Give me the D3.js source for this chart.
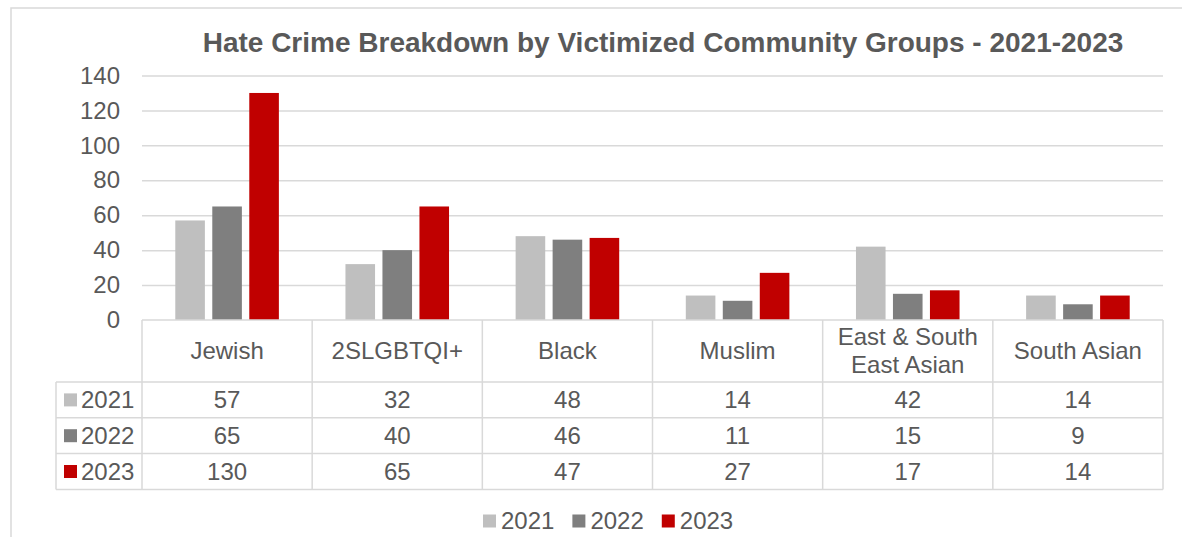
<!DOCTYPE html>
<html>
<head>
<meta charset="utf-8">
<script src="https://cdn.jsdelivr.net/npm/d3@7"></script>
<style>
  html, body { margin: 0; padding: 0; background: #fff; }
  svg { display: block; }
  text { font-family: "Liberation Sans", Arial, sans-serif; fill: #595959; }
</style>
</head>
<body>
<svg id="chart" width="1182" height="537"></svg>
<script>
// Reported hate crimes per victimized community group
const categories = ["Jewish", "2SLGBTQI+", "Black", "Muslim", "East & South East Asian", "South Asian"];
const years = ["2021", "2022", "2023"];
const values2021 = [57, 32, 48, 14, 42, 14];
const values2022 = [65, 40, 46, 11, 15, 9];
const values2023 = [130, 65, 47, 27, 17, 14];
const yTicks = [0, 20, 40, 60, 80, 100, 120, 140];
const titleText = "Hate Crime Breakdown by Victimized Community Groups - 2021-2023";

const seriesValues = [values2021, values2022, values2023];
const colors = d3.scaleOrdinal().domain(years).range(["#bfbfbf", "#7f7f7f", "#c00000"]);

const svg = d3.select("#chart");
const gridColor = "#d9d9d9";
const fontSize = 24;

// Chart frame
svg.append("rect")
  .attr("x", 11).attr("y", 8)
  .attr("width", 1300).attr("height", 600)
  .attr("fill", "#fff")
  .attr("stroke", gridColor).attr("stroke-width", 1.5);

// Plot geometry
const plot = { left: 142, right: 1163, top: 75.5, bottom: 320 };
const table = { left: 56, headerBottom: 382, rowH: 35.8 };

const x0 = d3.scaleBand().domain(categories).range([plot.left, plot.right]).padding(0);
const x1 = d3.scaleBand().domain(years).range([0, x0.bandwidth()])
  .paddingInner(0.2).paddingOuter(0.9);
const y = d3.scaleLinear().domain([0, 140]).range([plot.bottom, plot.top]);

// Title
svg.append("text")
  .attr("x", 663).attr("y", 52)
  .attr("text-anchor", "middle")
  .style("font-size", "28px").style("font-weight", "bold")
  .text(titleText);

// Gridlines and y labels
const yAxis = d3.axisLeft(y).tickValues(yTicks).tickSize(-(plot.right - plot.left)).tickPadding(22);
const gy = svg.append("g").attr("transform", `translate(${plot.left},0)`).call(yAxis);
gy.select(".domain").remove();
gy.selectAll(".tick line")
  .attr("stroke", gridColor).attr("stroke-width", 1.5)
  .filter(d => d === 0).remove();
gy.selectAll(".tick text")
  .attr("fill", "#595959")
  .style("font-family", "'Liberation Sans', Arial, sans-serif")
  .style("font-size", fontSize + "px");

// Bars
const groups = svg.append("g").selectAll("g")
  .data(categories)
  .join("g")
  .attr("transform", d => `translate(${x0(d)},0)`);

groups.selectAll("rect")
  .data((d, i) => years.map((yr, j) => ({ yr, v: seriesValues[j][i] })))
  .join("rect")
  .attr("x", d => x1(d.yr))
  .attr("width", x1.bandwidth())
  .attr("y", d => y(d.v))
  .attr("height", d => y(0) - y(d.v))
  .attr("fill", d => colors(d.yr));

// Data table lines
const rowsTop = table.headerBottom;
const rowsBottom = rowsTop + years.length * table.rowH;
const lines = svg.append("g").attr("stroke", gridColor).attr("stroke-width", 1.5);

// horizontal: axis line + row separators
lines.append("line")
  .attr("x1", plot.left).attr("x2", plot.right)
  .attr("y1", plot.bottom).attr("y2", plot.bottom);
d3.range(years.length + 1).forEach(i => {
  const yy = rowsTop + i * table.rowH;
  lines.append("line")
    .attr("x1", table.left).attr("x2", plot.right)
    .attr("y1", yy).attr("y2", yy);
});
// vertical: column boundaries
const colEdges = categories.map(c => x0(c)).concat([plot.right]);
colEdges.forEach(xx => {
  lines.append("line")
    .attr("x1", xx).attr("x2", xx)
    .attr("y1", plot.bottom).attr("y2", rowsBottom);
});
lines.append("line")
  .attr("x1", table.left).attr("x2", table.left)
  .attr("y1", rowsTop).attr("y2", rowsBottom);

// Category headers, wrapped to column width
const headerMid = (plot.bottom + rowsTop) / 2;
const lineH = 28;
categories.forEach(cat => {
  const t = svg.append("text")
    .attr("text-anchor", "middle")
    .style("font-size", fontSize + "px");
  const cx = x0(cat) + x0.bandwidth() / 2;
  const words = cat.split(" ");
  const linesOut = [];
  let current = [];
  const probe = t.append("tspan");
  words.forEach(w => {
    const trial = current.concat([w]).join(" ");
    probe.text(trial);
    if (probe.node().getComputedTextLength() > x0.bandwidth() - 14 && current.length) {
      linesOut.push(current.join(" "));
      current = [w];
    } else {
      current.push(w);
    }
  });
  linesOut.push(current.join(" "));
  probe.remove();
  const startY = headerMid - (linesOut.length - 1) * lineH / 2;
  linesOut.forEach((ln, k) => {
    t.append("tspan")
      .attr("x", cx)
      .attr("y", startY + k * lineH)
      .attr("dy", "0.35em")
      .text(ln);
  });
});

// Rows: legend key, year label, values
years.forEach((yr, j) => {
  const cy = rowsTop + (j + 0.5) * table.rowH;
  svg.append("rect")
    .attr("x", 64).attr("y", cy - 6.5)
    .attr("width", 13).attr("height", 13)
    .attr("fill", colors(yr));
  svg.append("text")
    .attr("x", 81).attr("y", cy).attr("dy", "0.35em")
    .style("font-size", fontSize + "px")
    .text(yr);
  categories.forEach((cat, i) => {
    svg.append("text")
      .attr("x", x0(cat) + x0.bandwidth() / 2)
      .attr("y", cy).attr("dy", "0.35em")
      .attr("text-anchor", "middle")
      .style("font-size", fontSize + "px")
      .text(seriesValues[j][i]);
  });
});

// Bottom legend
const legend = svg.append("g");
let lx = 483;
const ly = 521;
years.forEach(yr => {
  legend.append("rect")
    .attr("x", lx).attr("y", ly - 6.5)
    .attr("width", 13).attr("height", 13)
    .attr("fill", colors(yr));
  const t = legend.append("text")
    .attr("x", lx + 18).attr("y", ly).attr("dy", "0.35em")
    .style("font-size", fontSize + "px")
    .text(yr);
  lx += 18 + t.node().getComputedTextLength() + 18;
});
</script>
</body>
</html>
